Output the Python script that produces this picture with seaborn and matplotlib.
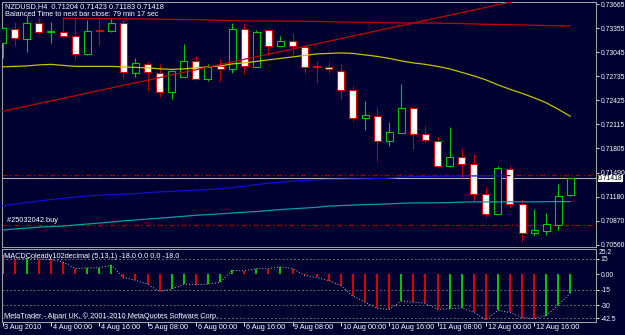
import numpy as np
import pandas as pd
import seaborn as sns
import matplotlib.pyplot as plt
from matplotlib.patches import Rectangle
from matplotlib.transforms import blended_transform_factory

# NZDUSD H4 bars (3 Aug 2010 08:00 .. 12 Aug 2010 20:00)
opens = [0.73159, 0.73343, 0.73210, 0.73416, 0.73298, 0.73308, 0.73246, 0.73015, 0.73324, 0.73311,
         0.73414, 0.72780, 0.72890, 0.72780, 0.72528, 0.72729, 0.72935, 0.72695, 0.72866, 0.72824,
         0.73343, 0.72857, 0.73330, 0.73124, 0.73182, 0.73115, 0.72860, 0.72850, 0.72806, 0.72557,
         0.72193, 0.72222, 0.71891, 0.71999, 0.72329, 0.71987, 0.71900, 0.71578, 0.71690, 0.71600,
         0.71214, 0.70956, 0.71540, 0.71089, 0.70703, 0.70741, 0.70810, 0.71204]
highs = [0.73369, 0.73437, 0.73523, 0.73485, 0.73429, 0.73501, 0.73481, 0.73459, 0.73481, 0.73472,
         0.73453, 0.72972, 0.72922, 0.72888, 0.72815, 0.73150, 0.72995, 0.72892, 0.72953, 0.73416,
         0.73416, 0.73330, 0.73343, 0.73253, 0.73288, 0.73137, 0.72935, 0.72922, 0.72892, 0.72609,
         0.72416, 0.72342, 0.72141, 0.72635, 0.72355, 0.72094, 0.71943, 0.72077, 0.71806, 0.71733,
         0.71299, 0.71569, 0.71569, 0.71153, 0.71025, 0.70964, 0.71347, 0.71423]
lows = [0.72970, 0.73128, 0.73051, 0.73279, 0.73159, 0.73244, 0.72944, 0.73008, 0.73131, 0.73298,
        0.72712, 0.72721, 0.72544, 0.72463, 0.72438, 0.72718, 0.72686, 0.72677, 0.72677, 0.72772,
        0.72760, 0.72854, 0.73008, 0.73118, 0.73008, 0.72776, 0.72644, 0.72780, 0.72429, 0.72149,
        0.72033, 0.71634, 0.71836, 0.71999, 0.71794, 0.71878, 0.71566, 0.71562, 0.71417, 0.71119,
        0.70918, 0.70956, 0.71034, 0.70603, 0.70668, 0.70681, 0.70745, 0.71183]
closes = [0.73352, 0.73223, 0.73416, 0.73300, 0.73311, 0.73257, 0.73017, 0.73321, 0.73317, 0.73416,
          0.72783, 0.72901, 0.72783, 0.72528, 0.72802, 0.72935, 0.72695, 0.72857, 0.72828, 0.73343,
          0.72866, 0.73300, 0.73124, 0.73188, 0.73118, 0.72850, 0.72854, 0.72824, 0.72557, 0.72193,
          0.72226, 0.71891, 0.72012, 0.72322, 0.71991, 0.71904, 0.71578, 0.71690, 0.71600, 0.71218,
          0.70956, 0.71549, 0.71089, 0.70703, 0.70745, 0.70831, 0.71192, 0.71418]

# moving averages / indicator lines on the price chart
ma_yellow = [0.72854, 0.72860, 0.72866, 0.72879, 0.72886, 0.72873, 0.72860, 0.72860, 0.72860, 0.72860,
             0.72854, 0.72847, 0.72841, 0.72828, 0.72821, 0.72828, 0.72841, 0.72854, 0.72866, 0.72892,
             0.72905, 0.72924, 0.72944, 0.72963, 0.72982, 0.73002, 0.73021, 0.73027, 0.73034, 0.73027,
             0.73008, 0.72989, 0.72963, 0.72931, 0.72905, 0.72886, 0.72860, 0.72828, 0.72783, 0.72738,
             0.72686, 0.72622, 0.72564, 0.72512, 0.72454, 0.72390, 0.72306, 0.72216]
ma_blue = [0.71063, 0.71083, 0.71102, 0.71121, 0.71141, 0.71157, 0.71173, 0.71186, 0.71198, 0.71205,
           0.71211, 0.71218, 0.71231, 0.71240, 0.71247, 0.71256, 0.71263, 0.71269, 0.71282, 0.71295,
           0.71314, 0.71334, 0.71353, 0.71366, 0.71379, 0.71389, 0.71396, 0.71401, 0.71403, 0.71406,
           0.71408, 0.71411, 0.71417, 0.71430, 0.71437, 0.71437, 0.71443, 0.71443, 0.71446, 0.71446,
           0.71447, 0.71447, 0.71450]
ma_teal = [0.70748, 0.70761, 0.70773, 0.70784, 0.70793, 0.70799, 0.70812, 0.70825, 0.70838, 0.70851,
           0.70866, 0.70877, 0.70889, 0.70900, 0.70913, 0.70925, 0.70938, 0.70947, 0.70956, 0.70967,
           0.70977, 0.70986, 0.70999, 0.71012, 0.71021, 0.71031, 0.71041, 0.71057, 0.71063, 0.71070,
           0.71076, 0.71080, 0.71085, 0.71093, 0.71098, 0.71098, 0.71099, 0.71102, 0.71108, 0.71111,
           0.71111, 0.71111, 0.71112, 0.71112, 0.71112, 0.71114, 0.71115, 0.71115]
ma_red_start = 5
ma_red = [0.73481, 0.73480, 0.73478, 0.73477, 0.73476, 0.73475, 0.73473, 0.73472, 0.73469, 0.73467,
          0.73464, 0.73462, 0.73459, 0.73455, 0.73451, 0.73447, 0.73446, 0.73446, 0.73445, 0.73444,
          0.73442, 0.73440, 0.73436, 0.73433, 0.73431, 0.73428, 0.73426, 0.73423, 0.73420, 0.73420,
          0.73420, 0.73419, 0.73416, 0.73413, 0.73407, 0.73404, 0.73401, 0.73398, 0.73395, 0.73391,
          0.73387, 0.73384, 0.73382]
trend_bars = [0, 47]
trend_prices = [0.72280, 0.73856]
order_levels = [0.71463, 0.70818]
bid = 0.71418

# MACD (5,13,1) histogram
macd = [19, 15, 15.5, 15, 14.5, 12, 5.7, 6.3, 6.5, 8.9, -2.9, -5.7, -9.5, -16.5, -14.3, -9.5,
        -10, -9.5, -7.6, 4, 3.5, 5.7, 5.5, 7.3, 5.7, -1, -3, -6, -11, -21, -27, -33, -34, -26,
        -27, -28, -34, -33.5, -32.5, -37, -44, -35, -37, -42, -43, -40, -30, -18]
macd_levels = [15, -15, -30, -42.5]

price_ticks = [0.73665, 0.73355, 0.73045, 0.72735, 0.72425, 0.72115, 0.71805, 0.71490, 0.71180,
               0.70870, 0.70560]
macd_ticks = [15, 0, -15, -30, -42.5]
macd_tick_labels = ["15", "0.00", "-15", "-30", "-42.5"]
time_ticks = [0, 4, 8, 12, 16, 20, 24, 28, 32, 36, 40, 44]
time_labels = ["3 Aug 2010", "4 Aug 00:00", "4 Aug 16:00", "5 Aug 08:00", "6 Aug 00:00",
               "6 Aug 16:00", "9 Aug 08:00", "10 Aug 00:00", "10 Aug 16:00", "11 Aug 08:00",
               "12 Aug 00:00", "12 Aug 16:00"]

BG = "#000030"
FRAME = "#A0A0A0"
UP = "#00C800"
DOWN = "#E00000"
FS = 5.3
FS_AX = 4.9

sns.set_theme(style="dark", rc={"axes.facecolor": BG, "figure.facecolor": BG,
                                "axes.edgecolor": FRAME, "axes.linewidth": 0.75})
plt.rcParams["font.family"] = ["Liberation Sans", "DejaVu Sans"]

W, H = 625, 335
fig = plt.figure(figsize=(W / 100, H / 100), dpi=100)


def box(l, t, r, b):
    return [l / W, 1 - b / H, (r - l) / W, (b - t) / H]


ax = fig.add_axes(box(2, 2, 596, 246.5))
axm = fig.add_axes(box(2, 248.5, 596, 322), sharex=ax)

df = pd.DataFrame({"bar": np.arange(len(opens)), "open": opens, "high": highs,
                   "low": lows, "close": closes})

# background horizontal lines
ax.axhline(bid, color="#B0B0B0", lw=0.8, zorder=1)
for lv in order_levels:
    ax.axhline(lv, color="#9A0000", lw=1.0, ls=(0, (3.6, 2, 1, 2)), zorder=1)

# candles
bw = 0.58
for r in df.itertuples():
    up = r.close >= r.open
    col = UP if up else DOWN
    wick = UP if up else "#C00000"
    ax.vlines(r.bar, r.low, r.high, color=wick, lw=0.8, zorder=2)
    lo, hi = min(r.open, r.close), max(r.open, r.close)
    ax.add_patch(Rectangle((r.bar - bw / 2, lo), bw, max(hi - lo, 0.00002),
                           facecolor=BG if up else "white", edgecolor=col, lw=0.8, zorder=3))

# indicator lines
sns.lineplot(x=np.arange(len(ma_yellow)), y=ma_yellow, ax=ax, color="#C4C400", lw=0.9, zorder=4)
sns.lineplot(x=np.arange(len(ma_blue)), y=ma_blue, ax=ax, color="#1010D8", lw=0.9, zorder=4)
sns.lineplot(x=np.arange(len(ma_teal)), y=ma_teal, ax=ax, color="#00A0A0", lw=0.9, zorder=4)
sns.lineplot(x=np.arange(ma_red_start, ma_red_start + len(ma_red)), y=ma_red, ax=ax,
             color="#C80000", lw=0.9, zorder=4)
sns.lineplot(x=trend_bars, y=trend_prices, ax=ax, color="#C00000", lw=0.9, zorder=4)

ax.set_xlim(-0.05, 49.12)
ax.set_ylim(0.70535, 0.73691)
ax.yaxis.tick_right()
ax.set_yticks(price_ticks)
ax.set_yticklabels([f"{p:.5f}" for p in price_ticks])
ax.tick_params(axis="y", colors="white", labelsize=FS_AX, length=2, width=0.6, pad=1.2,
               direction="out", right=True)
ax.tick_params(axis="x", bottom=False, labelbottom=False)
ax.set_xlabel("")
ax.set_ylabel("")
ax.grid(False)

tr = blended_transform_factory(ax.transAxes, ax.transData)
ax.text(1.003, bid - 0.00004, "0.71418", transform=tr, fontsize=FS_AX, color="black",
        va="center", ha="left", zorder=6,
        bbox=dict(boxstyle="square,pad=0.04", facecolor="white", edgecolor="none"))

# MACD sub-window
for lv in macd_levels:
    axm.axhline(lv, color="#707060", lw=0.7, ls=(0, (2, 2)), zorder=1)
hist_cols = [UP] + [UP if macd[i] > macd[i - 1] else DOWN for i in range(1, len(macd))]
axm.vlines(np.arange(len(macd)), 0, macd, colors=hist_cols, lw=1.4, zorder=2)
sns.lineplot(x=np.arange(len(macd)), y=macd, ax=axm, color="#C0C0C0", lw=0.7,
             ls=(0, (1, 2)), zorder=3)
axm.set_ylim(-46.3, 25.2)
axm.yaxis.tick_right()
axm.set_yticks(macd_ticks)
axm.set_yticklabels(macd_tick_labels)
axm.tick_params(axis="y", colors="white", labelsize=FS_AX, length=2, width=0.6, pad=1.2,
                direction="out", right=True)
axm.text(1.004, 1.0, "25.2", transform=axm.transAxes, fontsize=FS_AX, color="white",
         va="top", ha="left")
axm.set_xticks(time_ticks)
axm.tick_params(axis="x", colors="white", length=3, width=0.6, direction="out",
                labelbottom=False, bottom=True)
axm.set_xlabel("")
axm.set_ylabel("")
axm.grid(False)

trx = blended_transform_factory(axm.transData, fig.transFigure)
for k, lab in zip(time_ticks, time_labels):
    axm.text(k + 0.14, 1 - 327.5 / H, lab, transform=trx, fontsize=FS, color="white",
             va="center", ha="left", clip_on=False)

# header texts
fig.text(5 / W, 1 - 6.5 / H, "NZDUSD,H4  0.71204 0.71423 0.71183 0.71418", fontsize=FS,
         color="white", va="center", ha="left")
fig.text(5 / W, 1 - 15 / H, "Balanced Time to next bar close: 79 min 17 sec", fontsize=FS,
         color="white", va="center", ha="left")
fig.text(7 / W, 1 - 220 / H, "#25032042 buy", fontsize=FS, color="white", va="center", ha="left")
fig.text(4 / W, 1 - 256.5 / H, "MACDColeady102decimal (5,13,1) -18.0 0.0 0.0 -18.0", fontsize=FS,
         color="white", va="center", ha="left")
fig.text(4 / W, 1 - 316 / H, "MetaTrader - Alpari UK, \u00a9 2001-2010 MetaQuotes Software Corp.",
         fontsize=FS, color="white", va="center", ha="left")

plt.savefig("out.png", dpi=100, facecolor=BG)
